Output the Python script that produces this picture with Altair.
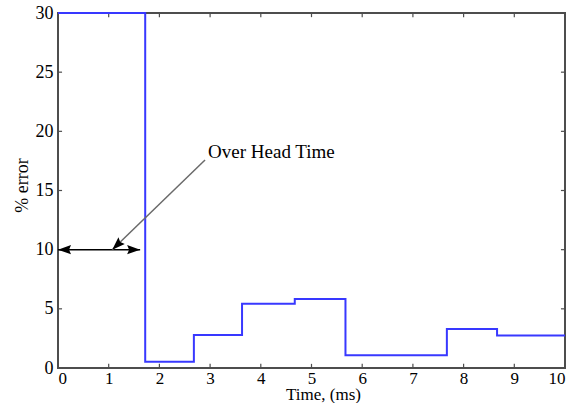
import altair as alt
import pandas as pd

# Step series (time in ms, % error), step-after
time_ms = [0, 1.72, 2.68, 3.63, 4.67, 5.67, 7.67, 8.66, 10]
pct_error = [30, 0.53, 2.79, 5.42, 5.84, 1.08, 3.3, 2.74, 2.74]

x_ticks = list(range(0, 11))
y_ticks = [0, 5, 10, 15, 20, 25, 30]

# Annotation: double arrow for overhead time and pointer arrow
span_x = [0, 1.62]
span_y = [10, 10]
pointer_x = [2.90, 1.07]
pointer_y = [17.58, 10]
label_text = ["Over Head Time"]
label_x = [2.96]
label_y = [17.75]
head_x = [0, 1.62, 1.07]
head_y = [10, 10, 10]
head_angle = [180, 0, 136]

FONT = "Liberation Serif"
FS = 18
W, H = 507, 355

xs = alt.Scale(domain=[0, 10], nice=False)
ys = alt.Scale(domain=[0, 30], nice=False)

step_df = pd.DataFrame({"t": time_ms, "e": pct_error})
step = alt.Chart(step_df).mark_line(
    interpolate="step-after", color="#3838ff", strokeWidth=2, clip=False
).encode(
    x=alt.X("t:Q", scale=xs, axis=alt.Axis(
        values=x_ticks, title="Time, (ms)", grid=False, ticks=False, domain=False,
        labelFont=FONT, labelFontSize=17, labelColor="black", labelPadding=2,
        titleFont=FONT, titleFontSize=17, titleFontWeight="normal", titleColor="black",
        titleX=265, titleY=31, titleBaseline="alphabetic", titleAlign="center")),
    y=alt.Y("e:Q", scale=ys, axis=alt.Axis(
        values=y_ticks, title="% error", grid=False, ticks=False, domain=False,
        labelFont=FONT, labelFontSize=FS, labelColor="black", labelPadding=5,
        titleFont=FONT, titleFontSize=FS, titleFontWeight="normal", titleColor="black",
        titleX=-31, titleY=172, titleAngle=-90, titleBaseline="alphabetic",
        titleAlign="center")),
)

span_df = pd.DataFrame({"x": span_x, "y": span_y})
span = alt.Chart(span_df).mark_line(color="black", strokeWidth=1.5).encode(
    x=alt.X("x:Q", scale=xs), y=alt.Y("y:Q", scale=ys)
)

ptr_df = pd.DataFrame({"x": pointer_x, "y": pointer_y})
ptr = alt.Chart(ptr_df).mark_line(color="#6a6a6a", strokeWidth=1.5).encode(
    x=alt.X("x:Q", scale=xs), y=alt.Y("y:Q", scale=ys)
)

head_df = pd.DataFrame({"x": head_x, "y": head_y, "a": head_angle})
heads = alt.Chart(head_df).mark_point(
    shape="M0,0L-2,-0.7L-1.7,0L-2,0.7Z", filled=True, size=169,
    color="black", opacity=1, strokeWidth=0
).encode(
    x=alt.X("x:Q", scale=xs), y=alt.Y("y:Q", scale=ys),
    angle=alt.Angle("a:Q", scale=None)
)

lab_df = pd.DataFrame({"x": label_x, "y": label_y, "t": label_text})
lab = alt.Chart(lab_df).mark_text(
    font=FONT, fontSize=19, align="left", baseline="alphabetic", color="black"
).encode(x=alt.X("x:Q", scale=xs), y=alt.Y("y:Q", scale=ys), text="t:N")

# Inward tick marks on all four sides
tx = pd.DataFrame({"v": x_ticks})
ty = pd.DataFrame({"v": y_ticks})
tick_style = dict(color="#4d4d4d", strokeWidth=1.2)
bottom = alt.Chart(tx).mark_rule(**tick_style).encode(
    x=alt.X("v:Q", scale=xs), y=alt.datum(0, scale=ys), y2=alt.datum(0.35))
top = alt.Chart(tx).mark_rule(**tick_style).encode(
    x=alt.X("v:Q", scale=xs), y=alt.datum(30, scale=ys), y2=alt.datum(29.65))
left = alt.Chart(ty).mark_rule(**tick_style).encode(
    y=alt.Y("v:Q", scale=ys), x=alt.datum(0, scale=xs), x2=alt.datum(0.08))
right = alt.Chart(ty).mark_rule(**tick_style).encode(
    y=alt.Y("v:Q", scale=ys), x=alt.datum(10, scale=xs), x2=alt.datum(9.92))

chart = alt.layer(bottom, top, left, right, step, span, ptr, heads, lab).properties(
    width=W, height=H,
    autosize=alt.AutoSizeParams(type="none"),
    padding={"left": 58, "top": 13, "right": 15, "bottom": 35},
    background="white",
).configure_view(
    stroke="#4d4d4d", strokeWidth=2
).configure_axis(
    labelFont=FONT, titleFont=FONT
).configure_text(font=FONT)

chart.save("out.html", embed_options={"renderer": "svg", "actions": False})
